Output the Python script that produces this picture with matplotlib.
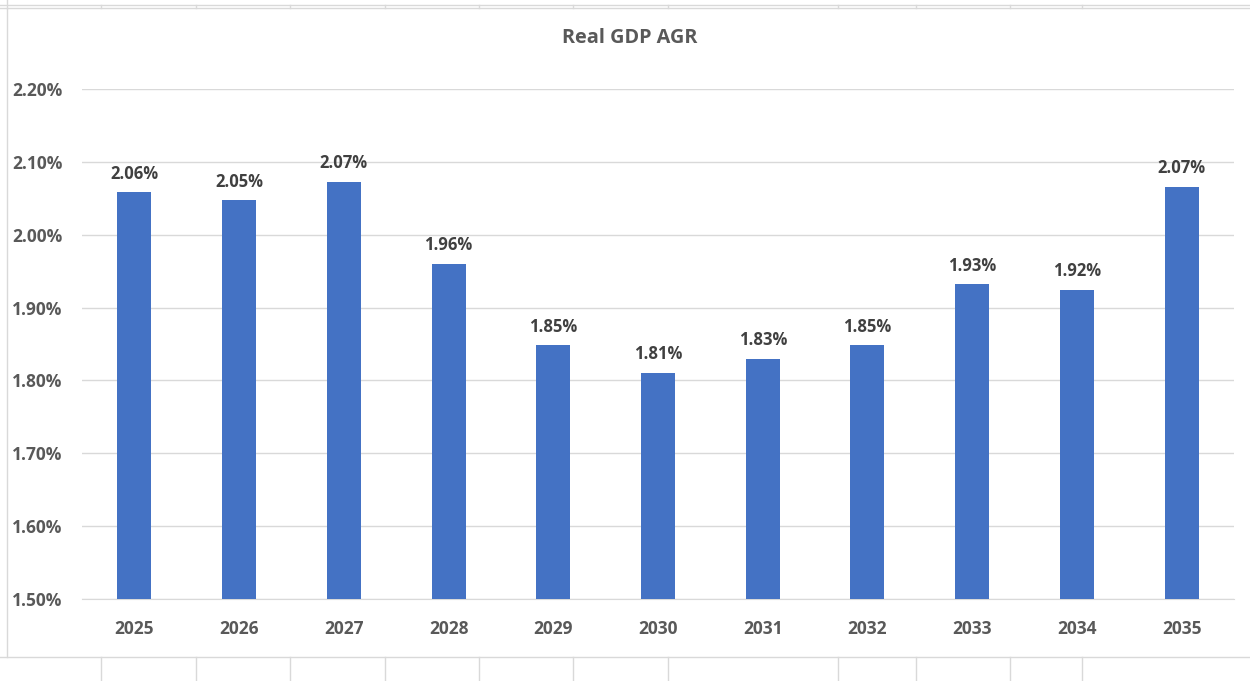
import matplotlib.pyplot as plt
from matplotlib.lines import Line2D
from matplotlib.ticker import FuncFormatter

years = ['2025', '2026', '2027', '2028', '2029', '2030', '2031', '2032', '2033', '2034', '2035']
gdp_growth = [2.058, 2.047, 2.073, 1.960, 1.848, 1.810, 1.830, 1.848, 1.932, 1.924, 2.066]
y_ticks = [1.5, 1.6, 1.7, 1.8, 1.9, 2.0, 2.1, 2.2]

# spreadsheet cell boundaries behind the chart (pixels)
cell_x = [101, 196, 290, 385, 479, 573, 668, 838, 916, 1010, 1082]

W, H = 1250, 681
bar_color = '#4472C4'
text_color = '#595959'
grid_color = '#D9D9D9'

plt.rcParams['font.family'] = ['Open Sans', 'DejaVu Sans']

fig = plt.figure(figsize=(W / 100, H / 100), dpi=100)
fig.patch.set_facecolor('white')

# sheet grid outside the chart frame
fig.add_artist(Line2D([0, 1], [1 - 5 / H, 1 - 5 / H], transform=fig.transFigure, color=grid_color, lw=1))
fig.add_artist(Line2D([0, 1], [1 - 8 / H, 1 - 8 / H], transform=fig.transFigure, color=grid_color, lw=1))
fig.add_artist(Line2D([7 / W, 7 / W], [1 - 8 / H, 1], transform=fig.transFigure, color=grid_color, lw=1))
fig.add_artist(Line2D([0, 1], [1 - 657 / H, 1 - 657 / H], transform=fig.transFigure, color=grid_color, lw=1))
fig.add_artist(Line2D([7 / W, 7 / W], [1 - 657 / H, 1 - 8 / H], transform=fig.transFigure, color=grid_color, lw=1))
for x in cell_x:
    fig.add_artist(Line2D([x / W, x / W], [1 - 8 / H, 1 - 5 / H], transform=fig.transFigure, color=grid_color, lw=1))
    fig.add_artist(Line2D([x / W, x / W], [0, 1 - 657 / H], transform=fig.transFigure, color=grid_color, lw=1))

ax = fig.add_axes([82 / W, 1 - 599 / H, (1234 - 82) / W, (599 - 89) / H])
bars = ax.bar(range(len(years)), gdp_growth, width=0.325, color=bar_color, zorder=3)
ax.set_xlim(-0.5, len(years) - 0.5)
ax.set_ylim(1.5, 2.2)
ax.set_yticks(y_ticks)
ax.yaxis.set_major_formatter(FuncFormatter(lambda v, p: f'{v:.2f}%'))
ax.set_xticks(range(len(years)))
ax.set_xticklabels(years)
ax.grid(axis='y', color=grid_color, lw=1, zorder=0)
for s in ax.spines.values():
    s.set_visible(False)
ax.spines['bottom'].set_visible(True)
ax.spines['bottom'].set_color(grid_color)
ax.tick_params(length=0, colors=text_color, labelsize=12.5)
ax.tick_params(axis='y', pad=14)
ax.tick_params(axis='x', pad=15)
for lab in ax.get_xticklabels() + ax.get_yticklabels():
    lab.set_fontweight('bold')

for i, v in enumerate(gdp_growth):
    ax.annotate(f'{v:.2f}%', (i, v), xytext=(0, 7), textcoords='offset points',
                ha='center', va='bottom', fontsize=12, fontweight='bold', color='#404040')

fig.text(630 / W, 1 - 38 / H, 'Real GDP AGR', ha='center', va='center',
         fontsize=14.3, fontweight='bold', color=text_color)

fig.savefig('out.png', dpi=100)
